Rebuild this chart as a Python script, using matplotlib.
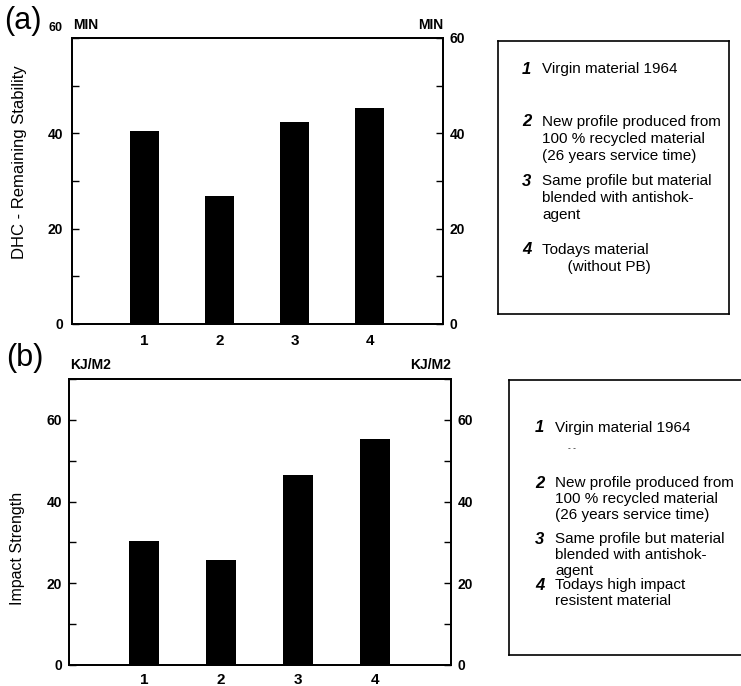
import matplotlib
matplotlib.use("Agg")
import matplotlib.pyplot as plt
from matplotlib.ticker import MultipleLocator

plt.rcParams['font.family'] = ['Liberation Sans', 'DejaVu Sans']

# data
samples = [1, 2, 3, 4]
dhc_minutes = [40.5, 26.8, 42.3, 45.4]
impact_kj_m2 = [30.4, 25.8, 46.5, 55.4]

legend_a = [
    ("1", ["Virgin material 1964"]),
    ("2", ["New profile produced from", "100 % recycled material", "(26 years service time)"]),
    ("3", ["Same profile but material", "blended with antishok-", "agent"]),
    ("4", ["Todays material", "      (without PB)"]),
]
legend_b = [
    ("1", ["Virgin material 1964"]),
    ("2", ["New profile produced from", "100 % recycled material", "(26 years service time)"]),
    ("3", ["Same profile but material", "blended with antishok-", "agent"]),
    ("4", ["Todays high impact", "resistent material"]),
]

W, H = 741, 686
fig = plt.figure(figsize=(W / 100, H / 100), dpi=100)


def rect(x0, y0, x1, y1):
    # pixel box (top-left origin) -> figure fraction
    return [x0 / W, 1 - y1 / H, (x1 - x0) / W, (y1 - y0) / H]


def px(x, y):
    return x / W, 1 - y / H


def bar_panel(box, values, ymax, lpad, rpad, xpad):
    ax = fig.add_axes(rect(*box))
    ax.bar(samples, values, width=0.39, color='black')
    ax.set_xlim(0.03, 4.98)
    ax.set_ylim(0, ymax)
    ax.set_xticks(samples)
    ax.tick_params(axis='x', length=0, pad=xpad, labelsize=11)

    right = ax.twinx()
    right.set_ylim(0, ymax)
    for a, pad in [(ax, lpad), (right, rpad)]:
        a.yaxis.set_major_locator(MultipleLocator(20))
        a.yaxis.set_minor_locator(MultipleLocator(10))
        a.tick_params(axis='y', which='both', direction='in', width=1.0, length=5)
        a.tick_params(axis='y', which='major', pad=pad, labelsize=10)
        for s in a.spines.values():
            s.set_linewidth(1.3)
    for lab in ax.get_xticklabels() + ax.get_yticklabels() + right.get_yticklabels():
        lab.set_fontweight('bold')
    return ax


ax_a = bar_panel((72, 38, 443, 324), dhc_minutes, 60, 6.5, 5, 7)
ax_a.set_yticks([0, 20, 40, 60], ['0', '20', '40', ''], fontweight='bold')
fig.text(*px(55, 28), "60", fontsize=9, fontweight='bold', va='center', ha='center')

ax_b = bar_panel((69, 379, 451, 665), impact_kj_m2, 70, 5, 4.5, 5.5)

fig.text(*px(20, 162), "DHC - Remaining Stability", fontsize=12, rotation=90,
         va='center', ha='center')
fig.text(*px(18, 548), "Impact Strength", fontsize=11.5, rotation=90,
         va='center', ha='center')

fig.text(*px(4, 21), "(a)", fontsize=22, va='center', ha='left')
fig.text(*px(6, 358), "(b)", fontsize=22, va='center', ha='left')

fig.text(*px(73, 25), "MIN", fontsize=10, fontweight='bold', va='center', ha='left')
fig.text(*px(443, 25), "MIN", fontsize=10, fontweight='bold', va='center', ha='right')
fig.text(*px(70, 365), "KJ/M2", fontsize=10, fontweight='bold', va='center', ha='left')
fig.text(*px(451, 365), "KJ/M2", fontsize=10, fontweight='bold', va='center', ha='right')

# legend boxes
for box in [(498, 41, 729, 314), (509, 380, 760, 655)]:
    lb = fig.add_axes(rect(*box))
    lb.set_xticks([])
    lb.set_yticks([])
    for s in lb.spines.values():
        s.set_linewidth(1.2)


def legend_text(entries, x_num, x_txt, rows, step):
    for (num, lines), y0 in zip(entries, rows):
        fig.text(*px(x_num, y0), num, fontsize=12, fontweight='bold', style='italic',
                 va='center', ha='left')
        for i, line in enumerate(lines):
            fig.text(*px(x_txt, y0 + i * step), line, fontsize=11, va='center', ha='left')


legend_text(legend_a, 522, 542, [69, 122, 181, 250], 17)
legend_text(legend_b, 535, 555, [428, 483, 539, 585], 16)
fig.text(*px(572, 449), "- -", fontsize=6, va='center', ha='center')

fig.savefig("out.png", dpi=100)
